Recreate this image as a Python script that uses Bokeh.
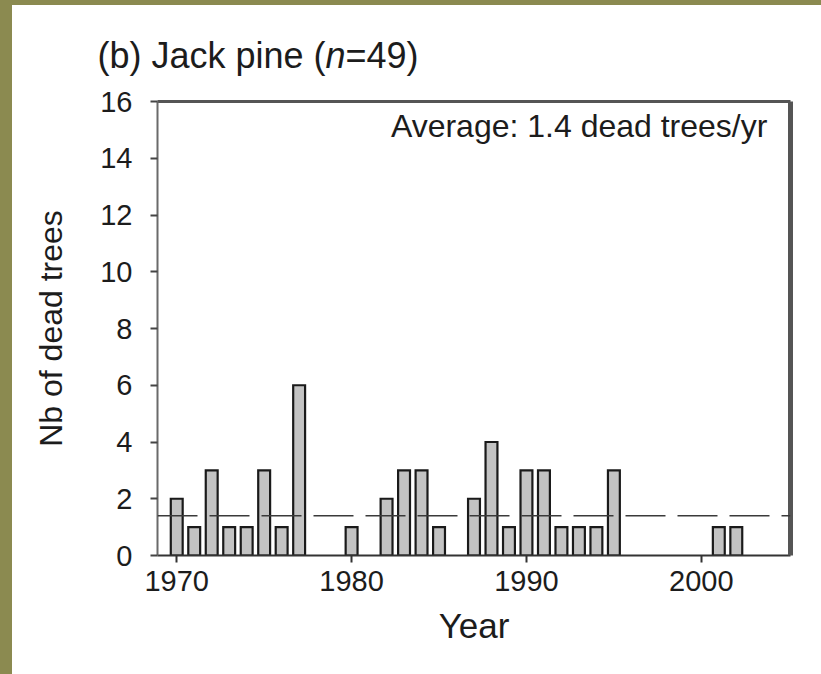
from bokeh.plotting import figure
from bokeh.models import Range1d, FixedTicker, LinearAxis, Span, Label, ColumnDataSource
from bokeh.core.properties import value
from bokeh.layouts import column
from bokeh.embed import file_html
from bokeh.resources import INLINE

# ---- data ----
years = [1970, 1971, 1972, 1973, 1974, 1975, 1976, 1977, 1980, 1982, 1983, 1984,
         1985, 1987, 1988, 1989, 1990, 1991, 1992, 1993, 1994, 1995, 2001, 2002]
dead_trees = [2, 1, 3, 1, 1, 3, 1, 6, 1, 2, 3, 3,
              1, 2, 4, 1, 3, 3, 1, 1, 1, 3, 1, 1]
average = 1.4
x_ticks = [1970, 1980, 1990, 2000]
y_ticks = [0, 2, 4, 6, 8, 10, 12, 14, 16]
title_parts = ["(b) Jack pine (", "n", "=49)"]
avg_text = "Average: 1.4 dead trees/yr"
x_label = "Year"
y_label = "Nb of dead trees"

FONT = "Liberation Sans"
TXT = "#1c1c1c"
X0, X1 = 1968.9, 2005.1
W = 809
HEAD_H = 75

# ---- header (title with italic n) ----
head = figure(width=W, height=HEAD_H, x_range=Range1d(0, W), y_range=Range1d(0, HEAD_H),
              output_backend="svg", toolbar_location=None, min_border=0,
              x_axis_type=None, y_axis_type=None,
              background_fill_color="white", border_fill_color="white")
head.frame_align = False
head.outline_line_color = None
head.grid.visible = False
title_x = [85, 313, 333]
title_styles = ["normal", "italic", "normal"]
for part, tx, st in zip(title_parts, title_x, title_styles):
    head.text(x=[tx], y=[25], text=[part], text_font=value(FONT), text_font_size="36px",
              text_font_style=st, text_color=TXT, text_baseline="alphabetic",
              text_align="left")

# ---- main chart ----
src = ColumnDataSource(dict(year=years, dead=dead_trees))

p = figure(width=W, height=669 - HEAD_H, x_range=Range1d(X0, X1), y_range=Range1d(0, 16),
           output_backend="svg", toolbar_location=None,
           min_border_left=145, min_border_right=31, min_border_top=21, min_border_bottom=119,
           background_fill_color="white", border_fill_color="white")
p.frame_align = False
p.outline_line_color = None
p.grid.visible = False

p.vbar(x="year", top="dead", bottom=0, width=0.68, source=src,
       fill_color="#c3c3c3", line_color="#1a1a1a", line_width=2.2, line_join="miter")

p.add_layout(Span(location=average, dimension="width", line_color="#3a3a3a",
                  line_width=1.5, line_dash="40 12"))

xa = p.xaxis[0]
xa.ticker = FixedTicker(ticks=x_ticks)
xa.axis_label = x_label
ya = p.yaxis[0]
ya.ticker = FixedTicker(ticks=y_ticks)
ya.axis_label = y_label
for ax in (xa, ya):
    ax.major_tick_out = 7
    ax.major_tick_in = 0
    ax.minor_tick_out = 0
    ax.minor_tick_in = 0
    ax.major_tick_line_width = 2
    ax.major_label_text_font = FONT
    ax.major_label_text_font_size = "29px"
    ax.major_label_text_color = TXT
    ax.axis_label_text_font = FONT
    ax.axis_label_text_font_style = "normal"
    ax.axis_label_text_color = TXT
xa.axis_line_color = "#333333"
xa.axis_line_width = 2
xa.major_tick_line_color = "#333333"
xa.major_label_standoff = 8
xa.axis_label_text_font_size = "35px"
xa.axis_label_standoff = 12
ya.axis_line_color = "#6a6a6a"
ya.axis_line_width = 2
ya.major_tick_line_color = "#444444"
ya.major_label_standoff = 18
ya.axis_label_text_font_size = "32px"
ya.axis_label_standoff = 28

# frame top and right edges
for loc, w in (("above", 3), ("right", 5)):
    fa = LinearAxis(ticker=FixedTicker(ticks=[]), axis_line_color="#555555", axis_line_width=w,
                    major_tick_line_color=None, minor_tick_line_color=None,
                    major_label_text_font_size="0px")
    p.add_layout(fa, loc)

p.add_layout(Label(x=2003.78, y=15.15, text=avg_text,
                   text_font=FONT, text_font_size="32px", text_color=TXT,
                   text_align="right", text_baseline="alphabetic"))

inner = column(head, p, spacing=0, styles={"background-color": "white"})
inner.margin = (5, 0, 0, 12)
layout = column(inner, styles={"background-color": "#8b8a50"})
open("out.html", "w").write(file_html(layout, INLINE))
